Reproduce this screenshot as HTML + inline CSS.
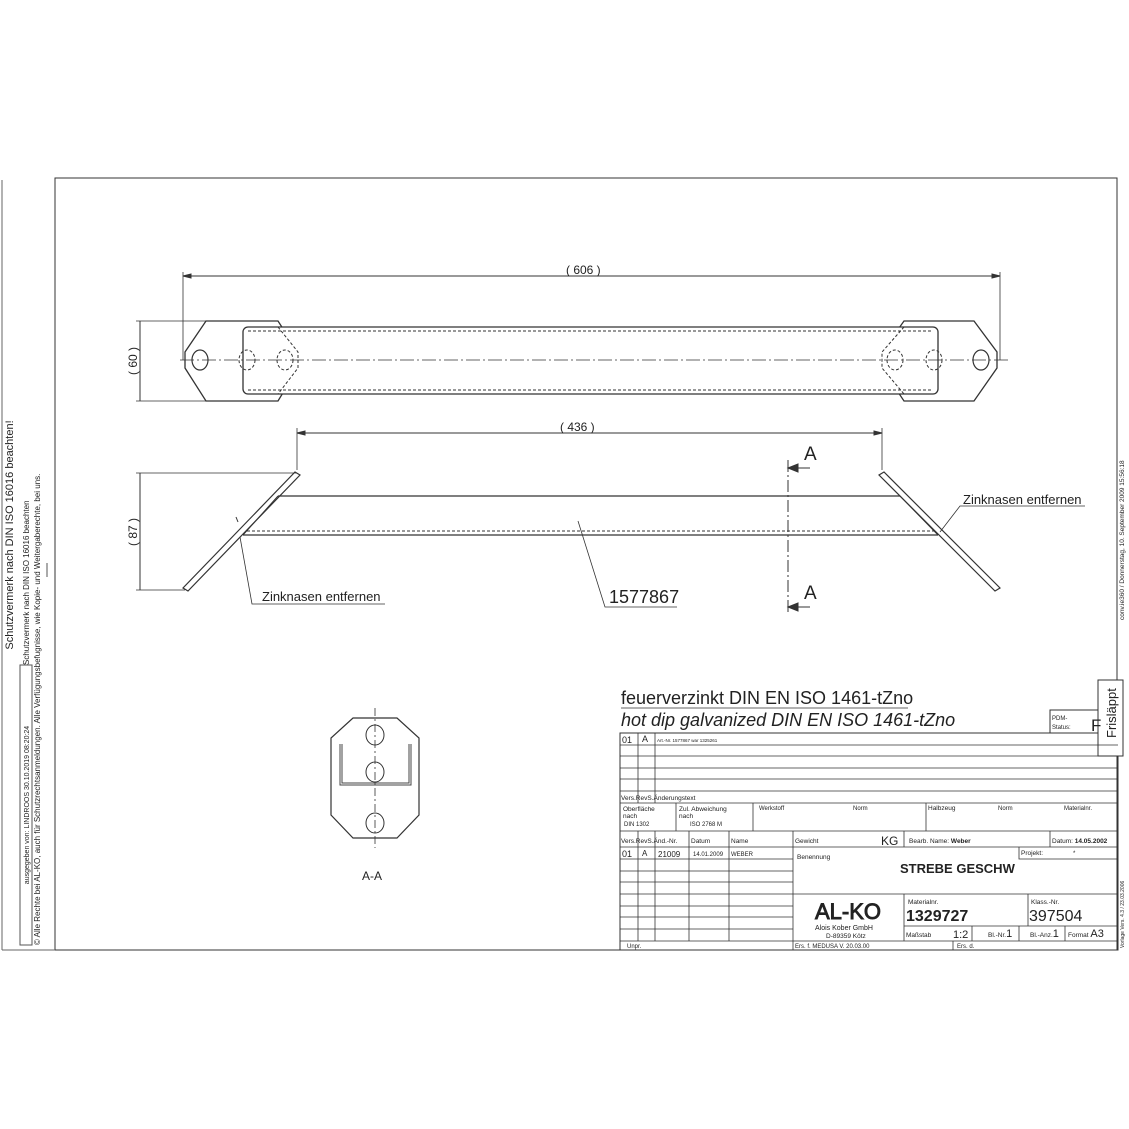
<!DOCTYPE html>
<html><head><meta charset="utf-8"><style>
html,body{margin:0;padding:0;background:#fff}
svg{display:block}
text{font-family:"Liberation Sans",sans-serif;fill:#222}
</style></head><body>
<svg width="1129" height="1129" viewBox="0 0 1129 1129" xmlns="http://www.w3.org/2000/svg">
<g stroke="#333" fill="none" stroke-width="1">
<!-- frame -->
<rect x="55" y="178" width="1062" height="772"/>
<line x1="2" y1="180" x2="2" y2="950" stroke="#666"/>
<line x1="2" y1="950" x2="55" y2="950" stroke="#666"/>
<rect x="20" y="665" width="12" height="280" stroke="#555"/>
<line x1="47" y1="563" x2="47" y2="577" stroke="#555"/>

<!-- TOP VIEW -->
<line x1="183" y1="276" x2="1000" y2="276"/>
<line x1="183" y1="272" x2="183" y2="360" stroke-width="0.8"/>
<line x1="1000" y1="272" x2="1000" y2="360" stroke-width="0.8"/>
<path d="M183,276 l8,-2 v4 z M1000,276 l-8,-2 v4 z" fill="#333"/>
<polygon points="206,321 278,321 298,352 298,368 278,401 206,401 185,368 185,352" stroke-width="1.3"/>
<polygon points="904,321 974,321 997,352 997,368 974,401 904,401 882,368 882,352" stroke-width="1.3"/>
<rect x="243" y="327" width="695" height="67" rx="5" fill="#fff" stroke-width="1.3"/>
<line x1="248" y1="331" x2="933" y2="331" stroke-dasharray="3,2"/>
<line x1="248" y1="390" x2="933" y2="390" stroke-dasharray="3,2"/>
<path d="M278,327 L298,352 L298,368 L278,394 M904,327 L882,352 L882,368 L904,394" stroke-dasharray="3,2"/>
<ellipse cx="200" cy="360" rx="8" ry="10" stroke-width="1.2"/>
<ellipse cx="247" cy="360" rx="8" ry="10" stroke-dasharray="3,2"/>
<ellipse cx="285" cy="360" rx="8" ry="10" stroke-dasharray="3,2"/>
<ellipse cx="895" cy="360" rx="8" ry="10" stroke-dasharray="3,2"/>
<ellipse cx="934" cy="360" rx="8" ry="10" stroke-dasharray="3,2"/>
<ellipse cx="981" cy="360" rx="8" ry="10" stroke-width="1.2"/>
<line x1="180" y1="360" x2="1008" y2="360" stroke-dasharray="14,3,2,3" stroke-width="0.8"/>
<line x1="140" y1="321" x2="140" y2="401"/>
<line x1="136" y1="321" x2="206" y2="321" stroke-width="0.8"/>
<line x1="136" y1="401" x2="206" y2="401" stroke-width="0.8"/>

<!-- SIDE VIEW -->
<line x1="297" y1="433" x2="882" y2="433"/>
<line x1="297" y1="428" x2="297" y2="470" stroke-width="0.8"/>
<line x1="882" y1="428" x2="882" y2="470" stroke-width="0.8"/>
<path d="M297,433 l8,-2 v4 z M882,433 l-8,-2 v4 z" fill="#333"/>
<polygon points="295,472 300,475 188,591 183,588" stroke-width="1.2"/>
<polygon points="884,472 879,475 995,591 1000,588" stroke-width="1.2"/>
<line x1="278" y1="496" x2="900" y2="496" stroke-width="1.2"/>
<line x1="243" y1="535" x2="938" y2="535" stroke-width="1.2"/>
<line x1="247" y1="531" x2="934" y2="531" stroke-dasharray="3,2"/>
<line x1="278" y1="496" x2="243" y2="535"/>
<line x1="900" y1="496" x2="938" y2="535"/>
<line x1="140" y1="473" x2="140" y2="590"/>
<line x1="136" y1="473" x2="297" y2="473" stroke-width="0.8"/>
<line x1="136" y1="590" x2="185" y2="590" stroke-width="0.8"/>
<line x1="788" y1="460" x2="788" y2="615" stroke-dasharray="12,3,2,3"/>
<line x1="792" y1="468" x2="810" y2="468"/>
<line x1="792" y1="607" x2="810" y2="607"/>
<path d="M788,468 l10,-4 v8 z M788,607 l10,-4 v8 z" fill="#333"/>
<polyline points="240,537 252,604 385,604" stroke-width="0.8"/>
<polyline points="940,532 960,506 1085,506" stroke-width="0.8"/>
<polyline points="578,521 605,607 677,607" stroke-width="0.8"/>
<line x1="236" y1="517" x2="238" y2="522"/>

<!-- SECTION A-A -->
<polygon points="353,718 397,718 419,738 419,815 397,838 353,838 331,815 331,738" stroke-width="1.2"/>
<polyline points="341,744 341,784 410,784 410,744" stroke-width="3" stroke="#444"/>
<polyline points="341,744 341,784 410,784 410,744" stroke-width="1" stroke="#fff"/>
<ellipse cx="375" cy="735" rx="9" ry="10" fill="#fff"/>
<ellipse cx="375" cy="772" rx="9" ry="10" fill="#fff"/>
<ellipse cx="375" cy="823" rx="9" ry="10" fill="#fff"/>
<line x1="375" y1="708" x2="375" y2="848" stroke-dasharray="8,3,2,3" stroke-width="0.8"/>

<!-- TITLE BLOCK -->
<line x1="621" y1="708" x2="908" y2="708" stroke-width="0.8"/>
<rect x="620" y="733" width="498" height="217" stroke-width="1"/>
<rect x="1050" y="710" width="48" height="23"/>
<rect x="1098" y="680" width="25" height="76" fill="#fff"/>
<g stroke-width="0.8">
<line x1="620" y1="745" x2="1118" y2="745"/><line x1="620" y1="756" x2="1118" y2="756"/>
<line x1="620" y1="768" x2="1118" y2="768"/><line x1="620" y1="779" x2="1118" y2="779"/>
<line x1="620" y1="791" x2="1118" y2="791"/><line x1="620" y1="803" x2="1118" y2="803"/>
<line x1="620" y1="831" x2="1118" y2="831"/><line x1="620" y1="847" x2="1118" y2="847"/>
<line x1="638" y1="733" x2="638" y2="803"/><line x1="655" y1="733" x2="655" y2="803"/>
<line x1="676" y1="803" x2="676" y2="831"/><line x1="753" y1="803" x2="753" y2="831"/><line x1="926" y1="803" x2="926" y2="831"/>
<line x1="638" y1="831" x2="638" y2="941"/><line x1="655" y1="831" x2="655" y2="941"/>
<line x1="689" y1="831" x2="689" y2="941"/><line x1="729" y1="831" x2="729" y2="941"/>
<line x1="793" y1="831" x2="793" y2="950"/><line x1="904" y1="831" x2="904" y2="847"/><line x1="1050" y1="831" x2="1050" y2="847"/>
<polyline points="1019,847 1019,859 1118,859"/>
<line x1="620" y1="859" x2="793" y2="859"/><line x1="620" y1="871" x2="793" y2="871"/>
<line x1="620" y1="882" x2="793" y2="882"/><line x1="620" y1="894" x2="1118" y2="894"/>
<line x1="620" y1="906" x2="793" y2="906"/><line x1="620" y1="917" x2="793" y2="917"/>
<line x1="620" y1="929" x2="793" y2="929"/><line x1="620" y1="941" x2="1118" y2="941"/>
<line x1="904" y1="894" x2="904" y2="941"/><line x1="1028" y1="894" x2="1028" y2="926"/>
<line x1="904" y1="926" x2="1118" y2="926"/>
<line x1="972" y1="926" x2="972" y2="941"/><line x1="1019" y1="926" x2="1019" y2="941"/><line x1="1065" y1="926" x2="1065" y2="941"/>
<line x1="953" y1="941" x2="953" y2="950"/>
</g>
</g>

<!-- texts -->
<g font-size="11">
<text x="566" y="274" font-size="12">( 606 )</text>
<text x="560" y="431" font-size="12">( 436 )</text>
<text transform="translate(137,361) rotate(-90)" text-anchor="middle" font-size="12">( 60 )</text>
<text transform="translate(137,532) rotate(-90)" text-anchor="middle" font-size="12">( 87 )</text>
<text x="804" y="460" font-size="19">A</text>
<text x="804" y="599" font-size="19">A</text>
<text x="262" y="601" font-size="13">Zinknasen entfernen</text>
<text x="963" y="504" font-size="13">Zinknasen entfernen</text>
<text x="609" y="603" font-size="18">1577867</text>
<text x="362" y="880" font-size="12">A-A</text>
<text transform="translate(13,535) rotate(-90)" text-anchor="middle" font-size="11">Schutzvermerk nach DIN ISO 16016 beachten!</text>
<text transform="translate(29,805) rotate(-90)" text-anchor="middle" font-size="7">ausgegeben von: LINDROOS 30.10.2019 08:20:24</text>
<text transform="translate(29,665) rotate(-90)" font-size="8">Schutzvermerk nach DIN ISO 16016 beachten</text>
<text transform="translate(40,945) rotate(-90)" font-size="8">© Alle Rechte bei AL-KO, auch für Schutzrechtsanmeldungen. Alle Verfügungsbefugnisse, wie Kopie- und Weitergaberechte, bei uns.</text>
<text transform="translate(1124,620) rotate(-90)" font-size="6.5" fill="#555">conv.ie360 / Donnerstag, 10. September 2009 15:56:18</text>
<text transform="translate(1124,948) rotate(-90)" font-size="5" fill="#555">Vorlage Vers. 4.3 / 23.03.2006</text>
<text x="621" y="704" font-size="18">feuerverzinkt DIN EN ISO 1461-tZno</text>
<text x="621" y="726" font-size="18" font-style="italic">hot dip galvanized DIN EN ISO 1461-tZno</text>
<text x="1052" y="720" font-size="6">PDM-</text><text x="1052" y="729" font-size="6">Status:</text>
<text x="1091" y="731" font-size="17">F</text>
<text transform="translate(1116,738) rotate(-90)" font-size="13">Frisläppt</text>
<text x="622" y="743" font-size="9">01</text><text x="642" y="742" font-size="9">A</text>
<text x="657" y="742" font-size="4.5">Art.-Nr. 1577867 war 1325261</text>
<text x="621" y="800" font-size="6.5">Vers.RevS.Änderungstext</text>
<text x="623" y="811" font-size="6.5">Oberfläche</text><text x="623" y="818" font-size="6.5">nach</text><text x="624" y="826" font-size="6">DIN 1302</text>
<text x="679" y="811" font-size="6.5">Zul. Abweichung</text><text x="679" y="818" font-size="6.5">nach</text><text x="690" y="826" font-size="6">ISO 2768 M</text>
<text x="759" y="810" font-size="6">Werkstoff</text><text x="853" y="810" font-size="6">Norm</text>
<text x="928" y="810" font-size="6.5">Halbzeug</text><text x="998" y="810" font-size="6">Norm</text><text x="1064" y="810" font-size="6">Materialnr.</text>
<text x="621" y="843" font-size="6.5">Vers.RevS.Änd.-Nr.</text><text x="691" y="843" font-size="6.5">Datum</text><text x="731" y="843" font-size="6.5">Name</text>
<text x="795" y="843" font-size="6.5">Gewicht</text><text x="881" y="845" font-size="12">KG</text>
<text x="909" y="843" font-size="6.5">Bearb. Name: <tspan font-weight="bold">Weber</tspan></text>
<text x="1052" y="843" font-size="6.5">Datum: <tspan font-weight="bold">14.05.2002</tspan></text>
<text x="622" y="857" font-size="9">01</text><text x="642" y="856" font-size="8">A</text>
<text x="658" y="857" font-size="8">21009</text><text x="693" y="856" font-size="6">14.01.2009</text><text x="731" y="856" font-size="6">WEBER</text>
<text x="797" y="859" font-size="6.5">Benennung</text>
<text x="1021" y="855" font-size="6.5">Projekt:</text><text x="1073" y="855" font-size="6">*</text>
<text x="900" y="873" font-size="13" font-weight="bold">STREBE GESCHW</text>
<text x="815" y="919" font-size="22" fill="#fff" stroke="#222" stroke-width="0.9">AL-KO</text>
<text x="815" y="930" font-size="7">Alois Kober GmbH</text><text x="826" y="938" font-size="6.5">D-89359 Kötz</text>
<text x="908" y="904" font-size="6.5">Materialnr.</text>
<text x="906" y="921" font-size="16" font-weight="bold">1329727</text>
<text x="1031" y="904" font-size="6.5">Klass.-Nr.</text>
<text x="1029" y="921" font-size="16">397504</text>
<text x="906" y="937" font-size="6.5">Maßstab</text><text x="953" y="938" font-size="11">1:2</text>
<text x="988" y="937" font-size="6.5">Bl.-Nr.<tspan font-size="11">1</tspan></text>
<text x="1030" y="937" font-size="6.5">Bl.-Anz.<tspan font-size="11">1</tspan></text>
<text x="1068" y="937" font-size="6.5">Format <tspan font-size="11">A3</tspan></text>
<text x="627" y="948" font-size="6">Unpr.</text>
<text x="795" y="948" font-size="6">Ers. f. MEDUSA V. 20.03.00</text>
<text x="957" y="948" font-size="6">Ers. d.</text>
</g>
</svg>
</body></html>
